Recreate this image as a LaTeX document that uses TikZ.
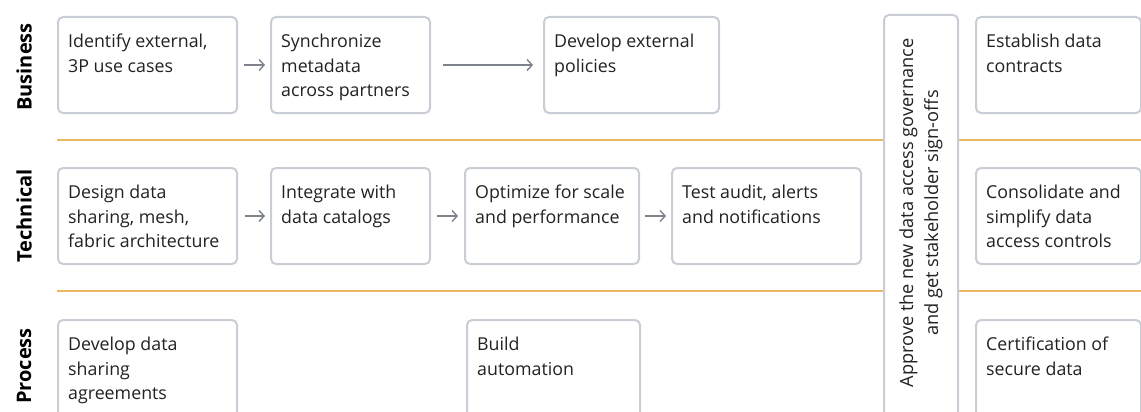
\documentclass[tikz,border=0pt]{standalone}
\usepackage{fontspec}
\setmainfont{Open Sans}
\usetikzlibrary{arrows.meta}
\definecolor{boxline}{HTML}{C9CDD5}
\definecolor{txtcol}{HTML}{222222}
\definecolor{arrcol}{HTML}{7D828C}
\definecolor{lane}{HTML}{EDB866}
\tikzset{
  stepbox/.style={draw=boxline, line width=2pt, rounded corners=5pt, fill=white, anchor=north west, inner sep=0pt},
  boxtext/.style={anchor=north west, inner sep=0pt, align=left, text=txtcol, font=\fontsize{17.8}{24.5}\selectfont},
  rowlabel/.style={rotate=90, inner sep=0pt, text=black, font=\fontsize{20}{22}\selectfont\bfseries},
  flow/.style={draw=arrcol, line width=1.4pt, -{Straight Barb[length=5pt,width=11pt]}},
  laneline/.style={draw=lane, line width=2.6pt}
}
\begin{document}
\begin{tikzpicture}[x=1pt,y=-1pt]
\useasboundingbox (0,0) rectangle (1141,412);
\clip (0,0) rectangle (1141,412);
\fill[white] (0,0) rectangle (1141,412);
% lane separators
\coordinate (l1a) at (57,140); \coordinate (l1b) at (1145,140);
\coordinate (l2a) at (57,291); \coordinate (l2b) at (1145,291);
\draw[laneline] (l1a) -- (l1b);
\draw[laneline] (l2a) -- (l2b);
% row labels
\node[rowlabel] (lbus) at (24,67) {Business};
\node[rowlabel] (ltec) at (24,216) {Technical};
\node[rowlabel] (lpro) at (24,366) {Process};
% Business row
\node[stepbox, minimum width=179pt, minimum height=96pt] (b1) at (57,16) {};
\node[stepbox, minimum width=159pt, minimum height=96pt] (b2) at (270,16) {};
\node[stepbox, minimum width=175pt, minimum height=96pt] (b3) at (543,16) {};
\node[stepbox, minimum width=165pt, minimum height=96pt] (b4) at (975,16) {};
\node[boxtext] (b1t) at ([xshift=11pt,yshift=-18pt]b1.north west) {Identify external,\\3P use cases};
\node[boxtext] (b2t) at ([xshift=11pt,yshift=-18pt]b2.north west) {Synchronize\\metadata\\across partners};
\node[boxtext] (b3t) at ([xshift=11pt,yshift=-18pt]b3.north west) {Develop external\\policies};
\node[boxtext] (b4t) at ([xshift=11pt,yshift=-18pt]b4.north west) {Establish data\\contracts};
\draw[flow] ([xshift=6pt]b1.east) -- ([xshift=-5pt]b2.west);
\draw[flow] ([xshift=12pt]b2.east) -- ([xshift=-10pt]b3.west);
% Technical row
\node[stepbox, minimum width=179pt, minimum height=96pt] (t1) at (57,167) {};
\node[stepbox, minimum width=159pt, minimum height=96pt] (t2) at (270,167) {};
\node[stepbox, minimum width=174pt, minimum height=96pt] (t3) at (464,167) {};
\node[stepbox, minimum width=189pt, minimum height=96pt] (t4) at (671,167) {};
\node[stepbox, minimum width=165pt, minimum height=96pt] (t5) at (975,167) {};
\node[boxtext] (t1t) at ([xshift=11pt,yshift=-18pt]t1.north west) {Design data\\sharing, mesh,\\fabric architecture};
\node[boxtext] (t2t) at ([xshift=11pt,yshift=-18pt]t2.north west) {Integrate with\\data catalogs};
\node[boxtext] (t3t) at ([xshift=11pt,yshift=-18pt]t3.north west) {Optimize for scale\\and performance};
\node[boxtext] (t4t) at ([xshift=11pt,yshift=-18pt]t4.north west) {Test audit, alerts\\and notifications};
\node[boxtext] (t5t) at ([xshift=11pt,yshift=-18pt]t5.north west) {Consolidate and\\simplify data\\access controls};
\draw[flow] ([xshift=7pt]t1.east) -- ([xshift=-5pt]t2.west);
\draw[flow] ([xshift=6pt]t2.east) -- ([xshift=-6pt]t3.west);
\draw[flow] ([xshift=5pt]t3.east) -- ([xshift=-5pt]t4.west);
% Process row
\node[stepbox, minimum width=179pt, minimum height=110pt] (p1) at (57,319) {};
\node[stepbox, minimum width=173pt, minimum height=110pt] (p2) at (466,319) {};
\node[stepbox, minimum width=165pt, minimum height=110pt] (p3) at (975,319) {};
\node[boxtext] (p1t) at ([xshift=11pt,yshift=-18pt]p1.north west) {Develop data\\sharing\\agreements};
\node[boxtext] (p2t) at ([xshift=11pt,yshift=-18pt]p2.north west) {Build\\automation};
\node[boxtext] (p3t) at ([xshift=11pt,yshift=-18pt]p3.north west) {Certification of\\secure data};
% Governance gate
\node[stepbox, minimum width=74pt, minimum height=420pt] (gate) at (883,14) {};
\node[rotate=90, inner sep=0pt, align=center, text=txtcol, font=\fontsize{18.2}{25}\selectfont] (gatet) at (921,213) {Approve the new data access governance\\and get stakeholder sign-offs};
\end{tikzpicture}
\end{document}
